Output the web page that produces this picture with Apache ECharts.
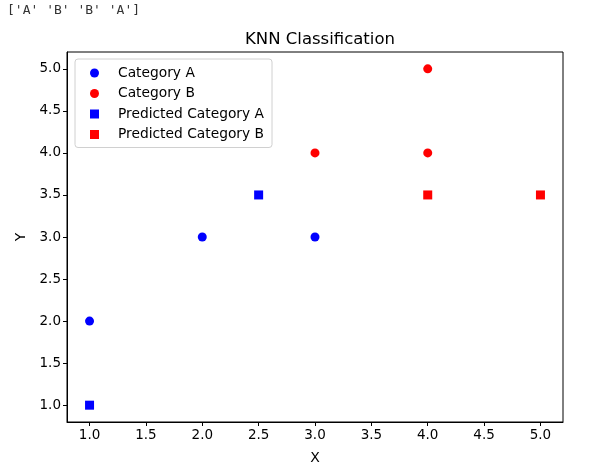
<!DOCTYPE html>
<html>
<head>
<meta charset="utf-8">
<script src="https://cdn.jsdelivr.net/npm/echarts@6/dist/echarts.min.js"></script>
<style>
  html, body { margin: 0; padding: 0; background: #fff; }
  #main { width: 605px; height: 474px; }
</style>
</head>
<body>
<div id="main"></div>
<script>
var categoryA = [[1, 2], [2, 3], [3, 3]];
var categoryB = [[3, 4], [4, 4], [4, 5]];
var predictedA = [[1, 1], [2.5, 3.5]];
var predictedB = [[4, 3.5], [5, 3.5]];
var tickValues = [1, 1.5, 2, 2.5, 3, 3.5, 4, 4.5, 5];
var predictionText = "['A' 'B' 'B' 'A']";

var chartDom = document.getElementById("main");
var myChart = echarts.init(chartDom);
var font = "DejaVu Sans";

function axisOpts(name, nameGap) {
  return {
    type: "value",
    min: 0.8,
    max: 5.2,
    name: name,
    nameLocation: "middle",
    nameGap: nameGap,
    nameTextStyle: { color: "#000", fontFamily: font, fontSize: 14 },
    axisLine: { show: true, onZero: false, lineStyle: { color: "#000", width: 1 } },
    axisTick: {
      show: true,
      length: 4,
      customValues: tickValues,
      lineStyle: { color: "#000" },
    },
    axisLabel: {
      color: "#000",
      fontFamily: font,
      fontSize: 13.5,
      margin: 6,
      customValues: tickValues,
      formatter: function (v) {
        return v.toFixed(1);
      },
    },
    splitLine: { show: false },
  };
}

var option = {
  animation: false,
  backgroundColor: "#fff",
  title: {
    text: "KNN Classification",
    left: 315,
    top: 26,
    textAlign: "center",
    textStyle: { color: "#000", fontFamily: font, fontSize: 16.5, fontWeight: "normal" },
  },
  graphic: [
    {
      type: "text",
      left: 7,
      top: 4,
      style: {
        text: predictionText,
        fill: "#333",
        font: "13px 'DejaVu Sans Mono'",
      },
    },
  ],
  grid: {
    left: 67,
    right: 42,
    top: 52,
    bottom: 52,
    show: true,
    borderColor: "#000",
    borderWidth: 1,
  },
  xAxis: axisOpts("X", 29),
  yAxis: axisOpts("Y", 39),
  legend: {
    orient: "vertical",
    left: 75,
    top: 59,
    padding: [7, 8, 6, 15],
    itemGap: 6.5,
    itemWidth: 9,
    itemHeight: 9,
    backgroundColor: "#fff",
    borderColor: "#d0d0d0",
    borderWidth: 1,
    borderRadius: 3,
    textStyle: {
      color: "#000",
      fontFamily: font,
      fontSize: 13.8,
      lineHeight: 14,
      padding: [0, 0, 0, 14],
    },
    data: [
      { name: "Category A", icon: "circle" },
      { name: "Category B", icon: "circle" },
      { name: "Predicted Category A", icon: "rect" },
      { name: "Predicted Category B", icon: "rect" },
    ],
  },
  series: [
    {
      name: "Category A",
      type: "scatter",
      symbol: "circle",
      symbolSize: 9,
      itemStyle: { color: "#0000ff", opacity: 1 },
      data: categoryA,
    },
    {
      name: "Category B",
      type: "scatter",
      symbol: "circle",
      symbolSize: 9,
      itemStyle: { color: "#ff0000", opacity: 1 },
      data: categoryB,
    },
    {
      name: "Predicted Category A",
      type: "scatter",
      symbol: "rect",
      symbolSize: 9,
      itemStyle: { color: "#0000ff", opacity: 1 },
      data: predictedA,
    },
    {
      name: "Predicted Category B",
      type: "scatter",
      symbol: "rect",
      symbolSize: 9,
      itemStyle: { color: "#ff0000", opacity: 1 },
      data: predictedB,
    },
  ],
};

myChart.setOption(option);
</script>
</body>
</html>
